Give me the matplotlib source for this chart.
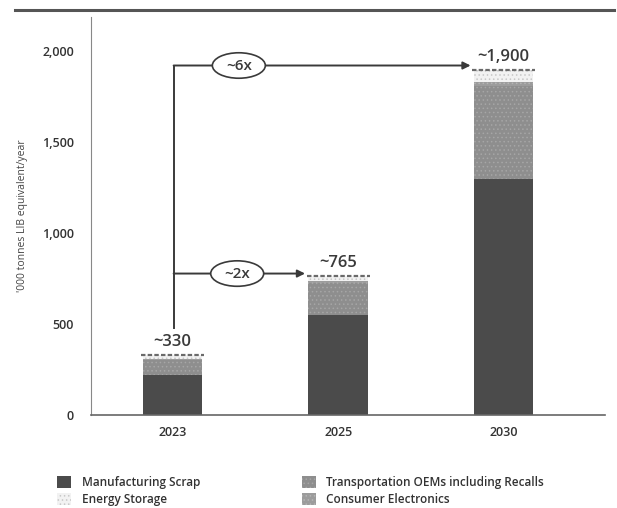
import matplotlib.pyplot as plt
from matplotlib.patches import Patch, Ellipse
import numpy as np

plt.rcParams['font.family'] = ['Open Sans', 'DejaVu Sans']
plt.rcParams['font.weight'] = 'semibold'
plt.rcParams['hatch.linewidth'] = 0.6

years = ['2023', '2025', '2030']
manufacturing = [220, 550, 1300]
transportation = [80, 175, 510]
consumer = [10, 10, 20]
energy = [20, 30, 70]
totals_label = ['~330', '~765', '~1,900']
growth_labels = ['~2x', '~6x']
growth_levels = [778, 1922]

fig = plt.figure(figsize=(6.17, 5.08), dpi=100)
ax = fig.add_axes([0.147, 0.183, 0.833, 0.784])

x = np.arange(len(years))
w = 0.36
bottom = np.zeros(len(years))
layers = [
    (manufacturing, '#4b4b4b', None, '#4b4b4b'),
    (transportation, '#8e8e8e', '....', '#a6a6a6'),
    (consumer, '#9c9c9c', '....', '#b5b5b5'),
    (energy, '#f2f2f2', '....', '#c8c8c8'),
]
for vals, fc, hatch, hc in layers:
    ax.bar(x, vals, w, bottom=bottom, color=fc, hatch=hatch,
           edgecolor=hc, linewidth=0)
    bottom += np.array(vals)

totals = bottom
ax.hlines(totals, x - w / 2 - 0.01, x + w / 2 + 0.01, colors='#6a6a6a',
          linestyles=(0, (2, 1)), linewidth=1.6)
for xi, t, lab in zip(x, totals, totals_label):
    ax.text(xi, t + 25, lab, ha='center', va='bottom', fontsize=12,
            color='#3a3a3a')

# growth arrows from the 2023 bar
x0 = 0.01
ax.plot([x0, x0], [480, growth_levels[1]], color='#3a3a3a', lw=1.4)
targets = [1 - w / 2 - 0.02, 2 - w / 2 - 0.02]
ell_x = [0.39, 0.40]
for lvl, tx, lab, ex in zip(growth_levels, targets, growth_labels, ell_x):
    ax.annotate('', xy=(tx, lvl), xytext=(x0 - 0.004, lvl),
                arrowprops=dict(arrowstyle='-|>', color='#3a3a3a', lw=1.4,
                                mutation_scale=11, shrinkA=0, shrinkB=0))
    ax.add_patch(Ellipse((ex, lvl), 0.32, 140, facecolor='white',
                         edgecolor='#3a3a3a', lw=1.2, zorder=3))
    ax.text(ex, lvl, lab, ha='center', va='center', fontsize=11,
            color='#3a3a3a', zorder=4)

ax.set_xlim(-0.495, 2.61)
ax.set_ylim(0, 2190)
ax.set_xticks(x)
ax.set_xticklabels(years, fontsize=9, color='#333333')
ax.set_yticks([0, 500, 1000, 1500, 2000])
ax.set_yticklabels(['0', '500', '1,000', '1,500', '2,000'], fontsize=9,
                   color='#333333')
ax.tick_params(length=0, pad=12)
ax.tick_params(axis='x', pad=8)
ax.set_ylabel("'000 tonnes LIB equivalent/year", fontsize=7.5,
              color='#444444', labelpad=10, fontweight='normal')
for s in ['top', 'right']:
    ax.spines[s].set_visible(False)
ax.spines['left'].set_color('#888888')
ax.spines['bottom'].set_color('#666666')
ax.spines['bottom'].set_linewidth(1.2)

# rule across the top of the panel
fig.add_artist(plt.Line2D([0.025, 0.995], [0.98, 0.98], color='#555555',
                          lw=2.2, transform=fig.transFigure))

handles = [
    Patch(facecolor='#4b4b4b', edgecolor='#4b4b4b', linewidth=0),
    Patch(facecolor='#f2f2f2', hatch='....', edgecolor='#c8c8c8', linewidth=0),
    Patch(facecolor='#8e8e8e', hatch='....', edgecolor='#a6a6a6', linewidth=0),
    Patch(facecolor='#9c9c9c', hatch='....', edgecolor='#b5b5b5', linewidth=0),
]
names = ['Manufacturing Scrap', 'Energy Storage',
         'Transportation OEMs including Recalls', 'Consumer Electronics']
fig.legend(handles, names, ncol=2, loc='lower left',
           bbox_to_anchor=(0.075, -0.017), frameon=False, fontsize=8.5,
           handlelength=1.2, handleheight=1.2, handletextpad=0.9,
           columnspacing=8.6, labelspacing=0.35, labelcolor='#333333')

fig.savefig('out.png', dpi=100)
